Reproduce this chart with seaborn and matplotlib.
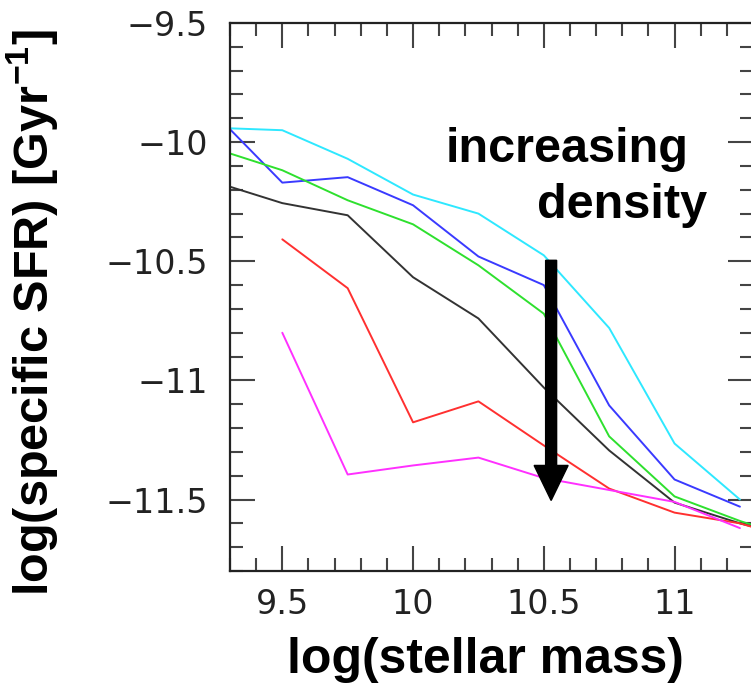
import matplotlib
matplotlib.use("Agg")
import matplotlib.pyplot as plt
import seaborn as sns
import pandas as pd
from matplotlib.ticker import MultipleLocator

# ---- data ----
mass = [9.25, 9.5, 9.75, 10.0, 10.25, 10.5, 10.75, 11.0, 11.25, 11.5]
cyan_ssfr    = [-9.94, -9.95, -10.07, -10.22, -10.30, -10.475, -10.78, -11.265, -11.50, None]
blue_ssfr    = [-9.89, -10.17, -10.147, -10.265, -10.48, -10.60, -11.105, -11.416, -11.53, None]
green_ssfr   = [-10.03, -10.118, -10.244, -10.345, -10.517, -10.72, -11.235, -11.487, -11.59, -11.68]
black_ssfr   = [-10.17, -10.256, -10.307, -10.567, -10.74, -11.03, -11.294, -11.513, -11.60, -11.67]
red_ssfr     = [None, -10.408, -10.613, -11.176, -11.088, -11.273, -11.454, -11.555, -11.60, -11.68]
magenta_ssfr = [None, -10.80, -11.395, -11.357, -11.324, -11.41, -11.46, -11.51, -11.62, None]

series = {
    "cyan": cyan_ssfr, "blue": blue_ssfr, "green": green_ssfr,
    "black": black_ssfr, "red": red_ssfr, "magenta": magenta_ssfr,
}
palette = {
    "cyan": "#2ee8ff", "blue": "#3a3aff", "green": "#2ee02e",
    "black": "#333333", "red": "#ff3030", "magenta": "#ff30ff",
}

rows = []
for name, vals in series.items():
    for m, v in zip(mass, vals):
        if v is not None:
            rows.append({"mass": m, "ssfr": v, "group": name})
df = pd.DataFrame(rows)

xticks = [9.5, 10, 10.5, 11]
xticklabels = ["9.5", "10", "10.5", "11"]
yticks = [-9.5, -10, -10.5, -11, -11.5]
yticklabels = ["\u22129.5", "\u221210", "\u221210.5", "\u221211", "\u221211.5"]

# ---- figure ----
sns.set_style("ticks")
plt.rcParams["font.family"] = ["DejaVu Sans"]
plt.rcParams["mathtext.fontset"] = "custom"
plt.rcParams["mathtext.rm"] = "Liberation Sans:bold"
plt.rcParams["mathtext.bf"] = "Liberation Sans:bold"

fig = plt.figure(figsize=(7.51, 6.92), dpi=100)
ax = fig.add_axes([230/751, (692-571)/692, (753-230)/751, (571-23)/692])

sns.lineplot(data=df, x="mass", y="ssfr", hue="group", palette=palette,
             hue_order=list(series.keys()), legend=False, sort=False,
             linewidth=1.4, ax=ax)

ax.set_xlim(9.3, 11.3)
ax.set_ylim(-11.8, -9.5)
ax.set_xticks(xticks)
ax.set_xticklabels(xticklabels)
ax.set_yticks(yticks)
ax.set_yticklabels(yticklabels)
ax.xaxis.set_minor_locator(MultipleLocator(0.1))
ax.yaxis.set_minor_locator(MultipleLocator(0.1))
ax.set_xlabel("")
ax.set_ylabel("")

for s in ax.spines.values():
    s.set_linewidth(1.6)
    s.set_color("#222222")
    s.set_visible(True)

ax.tick_params(which="both", direction="in", top=True, right=True,
               color="#444444", width=1.5)
ax.tick_params(which="major", length=18, labelsize=24, labelcolor="#222222")
ax.tick_params(which="minor", length=9.5)
ax.tick_params(axis="x", which="major", pad=12)
ax.tick_params(axis="y", which="major", pad=16)

# arrow
ax.arrow(10.528, -10.496, 0, -1.008, width=0.042, head_width=0.13,
         head_length=0.147, length_includes_head=True, color="black", zorder=5)

bold = dict(family="Liberation Sans", fontweight="bold", fontsize=35, color="black")
fig.text(567/751, 1-150/692, "increasing", ha="center", va="center", **bold)
fig.text(622/751, 1-205/692, "density", ha="center", va="center", **bold)
fig.text(485/751, 1-660/692, "log(stellar mass)", ha="center", va="center",
         family="Liberation Sans", fontweight="bold", fontsize=36, color="black")
fig.text(32/751, 1-313/692, "log(specific SFR) [Gyr$^{\\mathbf{-1}}$]",
         ha="center", va="center", rotation=90, **bold)

fig.savefig("out.png", dpi=100)
